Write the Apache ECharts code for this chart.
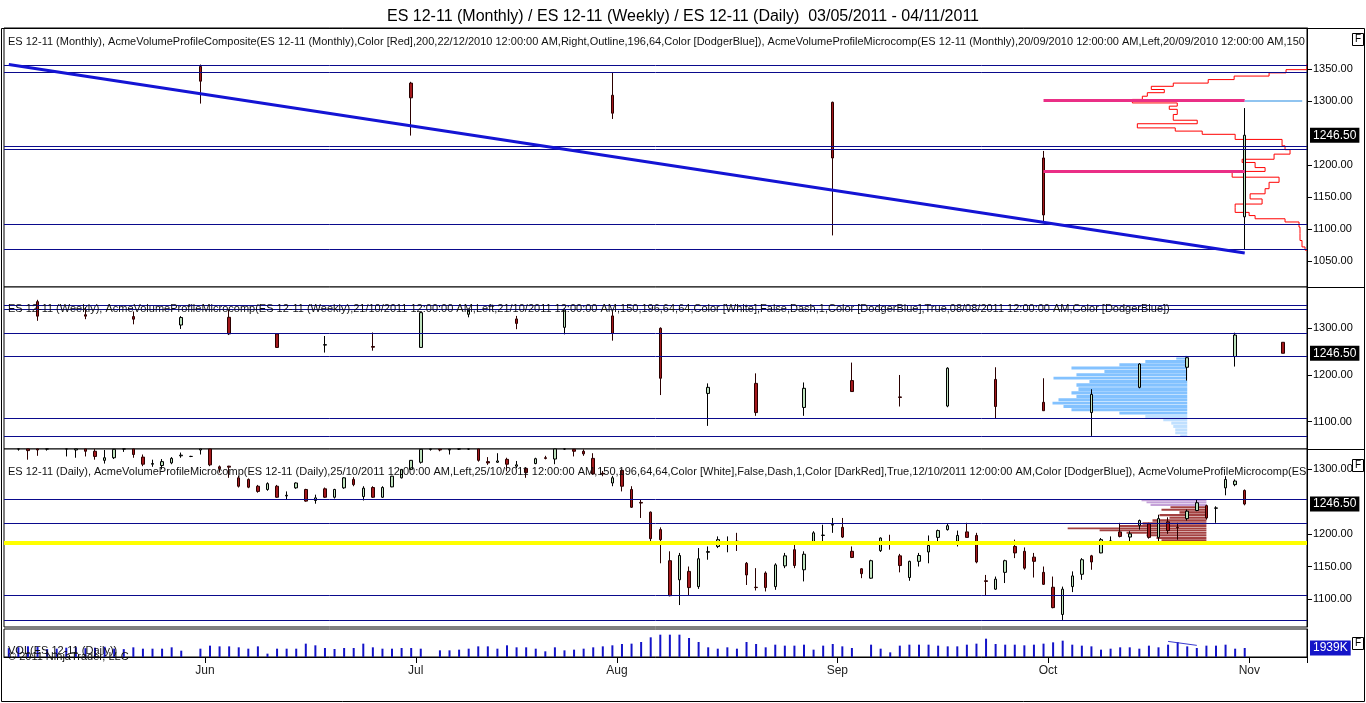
<!DOCTYPE html>
<html>
<head>
<meta charset="utf-8">
<title>ES 12-11 Monthly / Weekly / Daily</title>
<script src="https://cdn.jsdelivr.net/npm/echarts@6/dist/echarts.min.js"></script>
<style>
  html, body { margin: 0; padding: 0; background: #fff; }
  #chart { width: 1366px; height: 703px; }
</style>
</head>
<body>
<div id="chart"></div>
<script>
// session days on the chart (holiday sessions included)
var DAYS_MAY = [3,4,5,6,9,10,11,12,13,16,17,18,19,20,23,24,25,26,27,30,31];
var DAYS_JUN = [1,2,3,6,7,8,9,10,13,14,15,16,17,20,21,22,23,24,27,28,29,30];
var DAYS_JUL = [1,4,5,6,7,8,11,12,13,14,15,18,19,20,21,22,25,26,27,28,29];
var DAYS_AUG = [1,2,3,4,5,8,9,10,11,12,15,16,17,18,19,22,23,24,25,26,29,30,31];
var DAYS_SEP = [1,2,5,6,7,8,9,12,13,14,15,16,19,20,21,22,23,26,27,28,29,30];
var DAYS_OCT = [3,4,5,6,7,10,11,12,13,14,17,18,19,20,21,24,25,26,27,28,31];
var DAYS_NOV = [1,2,3,4,7,8];

// daily bars [open, high, low, close]
var DAILY_OHLC = [
  // May
  [1352,1356,1340,1346],[1346,1349,1329,1337],[1336,1338,1315,1329],[1335,1345,1321,1330],
  [1332,1340,1329,1337],[1337,1348,1335,1346],[1345,1348,1320,1332],[1330,1339,1318,1338],
  [1339,1343,1320,1328],[1328,1333,1315,1320],[1314,1330,1309,1318],[1318,1335,1316,1331],
  [1333,1338,1327,1334],[1334,1337,1318,1323],[1319,1323,1305,1308],[1308,1315,1304,1309],
  [1306,1316,1300,1312],[1310,1319,1308,1317],[1321,1326,1318,1322],[1320,1321,1319,1320],
  [1330,1340,1323,1337],
  // Jun
  [1334,1336,1305,1307],[1304,1306,1295,1301],[1305,1305.5,1287,1303.5],[1287,1290,1272,1274],
  [1284.5,1286,1271,1272.5],[1274,1276,1264,1266],[1269,1280,1267,1278],[1274,1276,1256,1257],
  [1259,1266,1253.5,1260],[1271.5,1280,1270,1279],[1269,1270,1250,1251],[1252,1261,1247,1256],
  [1270,1272,1256,1257],[1257,1270,1255,1269],[1271.5,1288,1270,1287],[1284.5,1288,1274,1276.5],
  [1258,1274,1252,1271],[1272,1274,1256,1257],[1257,1274,1256,1272],[1273,1290,1272.5,1289.5],
  [1287,1300.5,1286,1300],[1300,1314.5,1299,1314],
  // Jul
  [1311,1334,1309,1331],[1331,1334,1329,1332],[1331,1335,1328,1330],[1330,1334,1323,1331],
  [1333,1348,1330,1345],[1344,1346,1330,1336],[1336,1338,1312,1314],[1312,1319,1307,1310],
  [1311,1325,1310,1313],[1315.5,1318,1297,1308],[1305,1313,1302,1307],[1301.5,1302.5,1287,1295],
  [1309,1318,1308,1316.5],[1318,1321,1315.5,1317],[1316,1336,1308,1333],[1334,1340,1330,1336],
  [1331,1334,1320,1328],[1328,1331,1321,1324],[1317,1325,1292,1293],[1294,1297.5,1289.5,1293],
  [1279,1290,1274,1287],
  // Aug
  [1298.5,1300,1266,1274],[1269,1274,1240.5,1241.5],[1249,1253.5,1225,1248],[1234,1235,1189,1193],
  [1207,1210.5,1155,1191.5],[1159,1173.5,1104,1105],[1129.5,1171,1090.5,1167],[1142.5,1150,1106,1117.5],
  [1119,1178.5,1115.5,1162],[1172,1181,1160.5,1173],[1181,1196.5,1178.5,1191.5],[1185,1196.5,1172,1186],
  [1189,1202,1174,1188.5],[1155,1157,1121.5,1137],[1118,1147.5,1113,1117.5],[1140,1142.5,1111.5,1117.5],
  [1119,1155,1114,1152.5],[1151,1171,1147.5,1166.5],[1176,1183.5,1147.5,1151.5],[1145,1173.5,1127,1169],
  [1185,1204.5,1183.5,1202],[1198,1214.5,1189,1198.5],[1214,1225,1202,1215],
  // Sep
  [1210.5,1225,1194,1195.5],[1173.5,1181,1163,1164],[1146.5,1147.5,1132,1139],[1132,1160.5,1131,1159],
  [1174.5,1195,1172.5,1194],[1185,1199,1176,1184],[1166.5,1169.5,1141,1151.5],[1133,1159,1128,1158],
  [1158,1171,1150,1167],[1172.5,1198,1155,1182.5],[1195,1207,1189,1205.5],[1207,1216,1205.5,1213],
  [1189,1205.5,1181,1198],[1203.5,1217.5,1195,1195],[1198,1202,1155,1157],[1128,1137,1106,1127],
  [1115,1134.5,1114,1130.5],[1141,1160.5,1124.5,1159],[1181,1191.5,1163,1171],[1173.5,1179.5,1145,1147.5],
  [1164.5,1171,1133,1158],[1141,1150,1121.5,1122.5],
  // Oct
  [1118,1134.5,1085.5,1086.5],[1076,1119,1067.5,1115],[1119,1142.5,1110.5,1135.5],[1138,1163,1129.5,1160.5],
  [1166.5,1168,1145,1157],[1171,1194,1170.5,1191.5],[1189,1196.5,1183.5,1189.5],[1203.5,1217.5,1195,1196.5],
  [1195.5,1204.5,1189,1200.5],[1213.5,1222.5,1207,1221],[1216,1217.5,1193,1195],[1195,1230,1189,1224],
  [1219,1226,1200.5,1205.5],[1210.5,1217.5,1191.5,1210],[1224,1238,1221,1235.5],[1236.5,1253.5,1235.5,1248.5],
  [1244,1245.5,1222.5,1225],[1240,1243,1217.5,1240.5],[1271.5,1289.5,1260,1284.5],[1276.5,1284.5,1274,1282],
  [1267.5,1269,1244.5,1246.5]
];

// daily volume, thousands of contracts ('-' = no volume bar)
var DAILY_VOLUME = [
  1900,2100,2300,2200,1700,1800,2000,2100,1900,2000,2200,1800,1700,2080,1790,1790,1790,2080,1360,'-',1790,
  2440,2290,2290,2080,1790,2290,720,1790,1790,1790,2870,2510,1940,1720,1940,1940,2870,2080,1790,1790,1940,1940,
  1790,'-',1430,1430,1580,1790,2290,2290,1790,2510,2080,2080,1790,1220,2080,1430,1580,1790,2080,2290,2510,
  2800,2870,3230,4230,4800,4800,4800,4085,3225,2080,1790,2080,1790,3225,2795,2080,2650,2440,2440,2650,1580,2440,2795,
  2290,1935,'-',2650,1790,1000,2440,2650,2650,2650,2440,2290,2290,2650,2870,3940,2795,2650,2650,2510,2650,2870,
  3150,3510,2650,2440,2290,1580,1790,2080,2080,1790,2440,2080,2650,3225,2290,1935,2440,2440,2650,1790,1939
];

// weekly bars, plotted on the week's Friday
var WEEKLY_DATES = ['2011-05-06','2011-05-13','2011-05-20','2011-05-27','2011-06-03','2011-06-10','2011-06-17',
  '2011-06-24','2011-07-01','2011-07-08','2011-07-15','2011-07-22','2011-07-29','2011-08-05','2011-08-12',
  '2011-08-19','2011-08-26','2011-09-02','2011-09-09','2011-09-16','2011-09-23','2011-09-30','2011-10-07',
  '2011-10-14','2011-10-21','2011-10-28','2011-11-04'];
var WEEKLY_OHLC = [
  [1357,1361,1316,1326],[1329,1345,1319.5,1326],[1325,1336,1308.5,1319.5],[1307,1326,1298.5,1323],
  [1323.5,1339,1285.5,1288],[1288,1289,1258.5,1259],[1264,1283.5,1248,1265],[1261,1291,1252,1259.5],
  [1259,1335.5,1259,1333.5],[1330,1342.5,1323.5,1339],[1320,1326.5,1298,1310.5],[1302,1342.5,1287,1339],
  [1326.5,1338,1273.5,1289],[1300,1302,1157,1193],[1160.5,1182,1091,1173.5],[1182,1203.5,1112.5,1119.5],
  [1130.5,1184,1112.5,1171.5],[1188,1226.5,1164.5,1164.5],[1153,1200,1132.5,1152],[1133.5,1216.5,1131,1214.5],
  [1190.5,1216.5,1107.5,1132.5],[1141.5,1193,1123.5,1123.5],[1119.5,1169.5,1069.5,1158.5],[1173.5,1225,1171.5,1223.5],
  [1216.5,1239.5,1188,1237],[1239.5,1290.5,1218,1285.5],[1270,1270,1246.5,1246.5]
];

// monthly bars, plotted on the month's last session
var MONTHLY_DATES = ['2011-05-31','2011-06-30','2011-07-29','2011-08-31','2011-09-30','2011-10-31'];
var MONTHLY_OHLC = [
  [1354,1357,1296,1331],[1328,1330,1246,1305],[1309,1344,1272,1281],
  [1298,1299,1090,1211],[1211,1222,1110,1122],[1119,1289,1068,1246.5]
];

// volume at price profiles (thousands of contracts)
var M_PROFILE_PRICE = [1358,1349,1344,1339,1333.5,1328,1323,1318,1313,1307.5,1302.5,1297,1292,1287,1279,1270,
  1264.5,1258,1253,1248,1240,1230,1224,1217,1209,1204,1196,1190,1181,1173,1163,1155,1147,1139,1134,1126,1121,
  1116,1111,1103,1093,1082,1072,1067];
var M_PROFILE_VOL = [0,21,38,73,99,134,156,143,160,165,175,130,138,130,134,110,170,132,105,72,25,22,17,33,65,52,
  42,75,28,38,42,57,45,72,72,58,52,22,8,7,7,5,2,0];
var W_PROFILE_PRICE = [1239.3,1235.7,1228.6,1221.5,1214.3,1207.1,1200,1192.9,1185.7,1178.6,1169.3,1160.7,1153.6,
  1146.4,1139.3,1132.1,1125,1117.9,1110.7,1103.6,1096.5,1089.3,1082.1,1075,1069.4];
var W_PROFILE_VOL = [2,11,42,68,116,83,111,134,98,111,109,116,111,129,135,124,116,68,42,24,16,14,12,12,7];
var D_PROFILE_PRICE = [1252,1248.5,1245.5,1240.5,1238,1233,1229,1225,1221,1216,1212,1208.5,1205.5,1202,1198,
  1194,1190,1187];
var D_PROFILE_VOL = [65,60,56,36,45,27,47,37,54,64,87,139,107,80,60,50,45,30];
var PROFILE_VOL_PER_BAR = 9.6;
var W_PROFILE_ANCHOR = '2011-10-21';
var D_PROFILE_ANCHOR = '2011-10-25';

// price levels and drawings
var M_LEVELS = [1355.7, 1345, 1230, 1224, 1107, 1068];
var W_LEVELS = [1350, 1341.3, 1289.2, 1240, 1107.3, 1069.4];
var D_LEVELS = [1253.5, 1217, 1105.5, 1067];
var D_YELLOW = 1186;
var TRENDLINE = [['2011-05-03', 1357], ['2011-10-31', 1062.5]];
var POC_LEVELS = [1301, 1190];
var POC_SPAN = ['2011-09-30', '2011-10-31'];
var POC_EXT = ['2011-10-31', '2011-11-08'];
var VOL_TREND = [['2011-10-19', 3350], ['2011-10-24', 2500]];
var LAST_PRICE = 1246.5;
var LAST_VOLUME = 1939;

// axis labels
var M_TICKS = [1050, 1100, 1150, 1200, 1300, 1350];
var W_TICKS = [1100, 1200, 1300];
var D_TICKS = [1100, 1150, 1200, 1300];
var MONTH_NAMES = { '05': 'May', '06': 'Jun', '07': 'Jul', '08': 'Aug', '09': 'Sep', '10': 'Oct', '11': 'Nov' };

var TITLE = 'ES 12-11 (Monthly) / ES 12-11 (Weekly) / ES 12-11 (Daily)  03/05/2011 - 04/11/2011';
var H_MONTHLY = 'ES 12-11 (Monthly), AcmeVolumeProfileComposite(ES 12-11 (Monthly),Color [Red],200,22/12/2010 12:00:00 AM,Right,Outline,196,64,Color [DodgerBlue]), AcmeVolumeProfileMicrocomp(ES 12-11 (Monthly),20/09/2010 12:00:00 AM,Left,20/09/2010 12:00:00 AM,150,196,64,64,Color [White])';
var H_WEEKLY = 'ES 12-11 (Weekly), AcmeVolumeProfileMicrocomp(ES 12-11 (Weekly),21/10/2011 12:00:00 AM,Left,21/10/2011 12:00:00 AM,150,196,64,64,Color [White],False,Dash,1,Color [DodgerBlue],True,08/08/2011 12:00:00 AM,Color [DodgerBlue])';
var H_DAILY = 'ES 12-11 (Daily), AcmeVolumeProfileMicrocomp(ES 12-11 (Daily),25/10/2011 12:00:00 AM,Left,25/10/2011 12:00:00 AM,150,196,64,64,Color [White],False,Dash,1,Color [DarkRed],True,12/10/2011 12:00:00 AM,Color [DodgerBlue]), AcmeVolumeProfileMicrocomp(ES 12-11 (Daily),25/10/2011 12:00:00 AM)';

var FONT = 'Arial, "Liberation Sans", sans-serif';
var NAVY = '#0a0a8c';

var CATS = [];
[['2011-05', DAYS_MAY], ['2011-06', DAYS_JUN], ['2011-07', DAYS_JUL], ['2011-08', DAYS_AUG],
 ['2011-09', DAYS_SEP], ['2011-10', DAYS_OCT], ['2011-11', DAYS_NOV]].forEach(function (m) {
  m[1].forEach(function (d) { CATS.push(m[0] + '-' + (d < 10 ? '0' + d : d)); });
});

// panel layout: [top, height, yMin, yMax]
var PANELS = [
  [28, 259, 1009.4, 1414.1],
  [287, 162, 1041.5, 1388.4],
  [449, 178, 1056.6, 1331.5],
  [629, 28, 0, 6020]
];

// bars outside the panel range are hidden, bars crossing its edge are cut at the edge
function candles(dates, rows, lo, hi) {
  var out = CATS.map(function () { return ['-', '-', '-', '-']; });
  var c = function (v) { return Math.min(hi, Math.max(lo, v)); };
  dates.forEach(function (d, k) {
    var r = rows[k];
    if (r[2] >= hi || r[1] <= lo) return;
    out[CATS.indexOf(d)] = [c(r[0]), c(r[3]), c(r[2]), c(r[1])];
  });
  return out;
}

function priceTag(value, text, bg) {
  return {
    yAxis: value,
    lineStyle: { color: 'rgba(0,0,0,0)', width: 1 },
    label: {
      show: true, position: 'end', formatter: text, distance: 3,
      backgroundColor: bg, color: '#fff', fontSize: 12, fontFamily: FONT, padding: [2, 3, 1, 3]
    }
  };
}

function levels(list) {
  return list.map(function (v) { return { yAxis: v }; });
}

function segment(a, b, style) {
  return [{ coord: a, lineStyle: style }, { coord: b }];
}

function isMonthStart(i) {
  return i > 0 && CATS[i].slice(5, 7) !== CATS[i - 1].slice(5, 7);
}

var CANDLE_STYLE = {
  color: '#bde2bd', color0: '#a3171b',
  borderColor: '#000000', borderColor0: '#2b0000', borderColorDoji: '#000000', borderWidth: 1
};

function barProfile(g, anchorDate, prices, vols, colorOf) {
  var anchor = CATS.indexOf(anchorDate);
  return {
    type: 'custom', xAxisIndex: g, yAxisIndex: g, z: 1, silent: true, clip: true,
    encode: { x: 0, y: 1 },
    data: prices.map(function (p, k) { return [anchor, p, vols[k], k]; }),
    renderItem: function (params, api) {
      var k = api.value(3);
      var p = prices[k];
      var n = prices.length;
      var up = k > 0 ? (prices[k - 1] + p) / 2 : p + (p - prices[k + 1]) / 2;
      var dn = k < n - 1 ? (prices[k + 1] + p) / 2 : p - (prices[k - 1] - p) / 2;
      var a = api.coord([anchor, up]);
      var b = api.coord([anchor, dn]);
      var band = api.size([1, 0])[0];
      var w = api.value(2) * band / PROFILE_VOL_PER_BAR;
      return {
        type: 'rect',
        shape: { x: a[0] - w, y: a[1], width: w, height: Math.max(1, b[1] - a[1] - 0.4) },
        style: { fill: colorOf(p) }
      };
    }
  };
}

var chart = echarts.init(document.getElementById('chart'));

var option = {
  animation: false,
  backgroundColor: '#ffffff',
  textStyle: { fontFamily: FONT },
  title: [
    { text: TITLE, left: 'center', top: 4, textStyle: { fontSize: 16, fontWeight: 'normal', color: '#000', fontFamily: FONT } },
    { text: H_MONTHLY, left: 3, top: 31, textStyle: { fontSize: 11, fontWeight: 'normal', color: '#111', fontFamily: FONT, width: 1300, overflow: 'truncate', ellipsis: '' } },
    { text: H_WEEKLY, left: 3, top: 298, textStyle: { fontSize: 11, fontWeight: 'normal', color: '#111', fontFamily: FONT, width: 1300, overflow: 'truncate', ellipsis: '' } },
    { text: H_DAILY, left: 3, top: 461, textStyle: { fontSize: 11, fontWeight: 'normal', color: '#111', fontFamily: FONT, width: 1300, overflow: 'truncate', ellipsis: '' } },
    { text: 'VOL(ES 12-11 (Daily))', left: 3, top: 640, textStyle: { fontSize: 11, fontWeight: 'normal', color: '#111', fontFamily: FONT } },
    { text: '\u00a9 2011 NinjaTrader, LLC', left: 3, top: 646, textStyle: { fontSize: 11, fontWeight: 'normal', color: '#111', fontFamily: FONT } }
  ],
  grid: PANELS.map(function (p) {
    return { left: 4, right: 59, top: p[0], height: p[1], show: true, borderColor: '#000', borderWidth: 1, backgroundColor: '#fff' };
  }),
  xAxis: PANELS.map(function (p, g) {
    var last = g === PANELS.length - 1;
    return {
      type: 'category', gridIndex: g, data: CATS, boundaryGap: true,
      axisLine: { show: last, lineStyle: { color: '#000' } },
      axisTick: {
        show: last, length: 6, lineStyle: { color: '#000' },
        interval: function (i) { return isMonthStart(i); }
      },
      axisLabel: {
        show: last, fontSize: 12, color: '#222', fontFamily: FONT, margin: 8, padding: [0, 10, 0, 0],
        interval: function (i) { return isMonthStart(i); },
        formatter: function (v) { return MONTH_NAMES[v.slice(5, 7)]; }
      },
      splitLine: { show: false }
    };
  }),
  yAxis: PANELS.map(function (p, g) {
    var ticks = [M_TICKS, W_TICKS, D_TICKS, []][g];
    return {
      type: 'value', gridIndex: g, position: 'right', min: p[2], max: p[3],
      splitLine: { show: false },
      axisLine: { show: true, lineStyle: { color: '#000' } },
      axisTick: { show: ticks.length > 0, length: 5, lineStyle: { color: '#000' }, customValues: ticks },
      axisLabel: {
        show: ticks.length > 0, customValues: ticks, fontSize: 11, color: '#000', fontFamily: FONT, margin: 6,
        formatter: function (v) { return v.toFixed(2); }
      }
    };
  }),
  series: [
    {
      name: 'Monthly profile', type: 'custom', xAxisIndex: 0, yAxisIndex: 0, z: 2, silent: true, clip: true,
      encode: { x: 0, y: 1 },
      data: [[CATS.length - 1, M_PROFILE_PRICE[0]]],
      renderItem: function (params, api) {
        var band = api.size([1, 0])[0];
        var pts = [];
        M_PROFILE_PRICE.forEach(function (p, k) {
          var c = api.coord([CATS.length - 1, p]);
          var x = c[0] + band / 2 - M_PROFILE_VOL[k] * band / PROFILE_VOL_PER_BAR;
          if (k > 0) pts.push([pts[pts.length - 1][0], c[1]]);
          pts.push([x, c[1]]);
        });
        return { type: 'polyline', shape: { points: pts }, style: { stroke: '#ff0000', lineWidth: 1, fill: 'none' } };
      }
    },
    {
      name: 'ES 12-11 (Monthly)', type: 'candlestick', xAxisIndex: 0, yAxisIndex: 0, z: 3,
      barWidth: 3, itemStyle: CANDLE_STYLE,
      data: candles(MONTHLY_DATES, MONTHLY_OHLC, PANELS[0][2], PANELS[0][3]),
      markLine: {
        symbol: ['none', 'none'], silent: true, label: { show: false },
        lineStyle: { color: NAVY, width: 1, type: 'solid' },
        data: levels(M_LEVELS).concat([
          segment(TRENDLINE[0], TRENDLINE[1], { color: '#1414d4', width: 3, type: 'solid' }),
          segment([POC_SPAN[0], POC_LEVELS[0]], [POC_SPAN[1], POC_LEVELS[0]], { color: '#ea2f86', width: 3, type: 'solid' }),
          segment([POC_EXT[0], POC_LEVELS[0]], [POC_EXT[1], POC_LEVELS[0]], { color: '#90c4f0', width: 2, type: 'solid' }),
          segment([POC_SPAN[0], POC_LEVELS[1]], [POC_SPAN[1], POC_LEVELS[1]], { color: '#ea2f86', width: 3, type: 'solid' }),
          priceTag(LAST_PRICE, LAST_PRICE.toFixed(2), '#000')
        ])
      }
    },
    barProfile(1, W_PROFILE_ANCHOR, W_PROFILE_PRICE, W_PROFILE_VOL, function (p) {
      return p >= 1115 ? 'rgba(30,144,255,0.55)' : 'rgba(30,144,255,0.28)';
    }),
    {
      name: 'ES 12-11 (Weekly)', type: 'candlestick', xAxisIndex: 1, yAxisIndex: 1, z: 3,
      barWidth: 3, itemStyle: CANDLE_STYLE,
      data: candles(WEEKLY_DATES, WEEKLY_OHLC, PANELS[1][2], PANELS[1][3]),
      markLine: {
        symbol: ['none', 'none'], silent: true, label: { show: false },
        lineStyle: { color: NAVY, width: 1, type: 'solid' },
        data: levels(W_LEVELS).concat([priceTag(LAST_PRICE, LAST_PRICE.toFixed(2), '#000')])
      }
    },
    barProfile(2, D_PROFILE_ANCHOR, D_PROFILE_PRICE, D_PROFILE_VOL, function (p) {
      return p >= 1244 ? 'rgba(165,110,195,0.65)' : 'rgba(140,18,18,0.8)';
    }),
    {
      name: 'ES 12-11 (Daily)', type: 'candlestick', xAxisIndex: 2, yAxisIndex: 2, z: 3,
      barWidth: 3, itemStyle: CANDLE_STYLE,
      data: candles(CATS.slice(0, DAILY_OHLC.length), DAILY_OHLC, PANELS[2][2], PANELS[2][3]),
      markLine: {
        symbol: ['none', 'none'], silent: true, label: { show: false },
        lineStyle: { color: NAVY, width: 1, type: 'solid' },
        data: levels(D_LEVELS).concat([
          { yAxis: D_YELLOW, lineStyle: { color: '#ffff00', width: 4, type: 'solid' } },
          priceTag(LAST_PRICE, LAST_PRICE.toFixed(2), '#000')
        ])
      }
    },
    {
      name: 'VOL', type: 'bar', xAxisIndex: 3, yAxisIndex: 3, barWidth: 2,
      itemStyle: { color: '#1414c8' },
      data: DAILY_VOLUME,
      markLine: {
        symbol: ['none', 'none'], silent: true, label: { show: false },
        lineStyle: { color: '#3a3ad0', width: 1, type: 'solid' },
        data: [
          segment(VOL_TREND[0], VOL_TREND[1], { color: '#3a3ad0', width: 1, type: 'solid' }),
          priceTag(LAST_VOLUME, LAST_VOLUME + 'K', '#1414c8')
        ]
      }
    }
  ],
  graphic: [
    { type: 'rect', silent: true, z: 100, shape: { x: 1.5, y: 28.5, width: 1363, height: 673 }, style: { fill: 'none', stroke: '#000', lineWidth: 1 } },
    { type: 'line', silent: true, z: 100, shape: { x1: 1307, y1: 287.5, x2: 1365, y2: 287.5 }, style: { stroke: '#000', lineWidth: 1 } },
    { type: 'line', silent: true, z: 100, shape: { x1: 1307, y1: 449.5, x2: 1365, y2: 449.5 }, style: { stroke: '#000', lineWidth: 1 } }
  ].concat([33, 459, 637].map(function (y) {
    return {
      type: 'group', silent: true, z: 100, children: [
        { type: 'rect', shape: { x: 1352.5, y: y + 0.5, width: 11, height: 12 }, style: { fill: '#fff', stroke: '#000', lineWidth: 1 } },
        { type: 'text', style: { text: 'F', x: 1358, y: y + 6.5, align: 'center', verticalAlign: 'middle', font: '10px ' + FONT, fill: '#000' } }
      ]
    };
  }))
};

chart.setOption(option);
window.addEventListener('resize', function () { chart.resize(); });
</script>
</body>
</html>
